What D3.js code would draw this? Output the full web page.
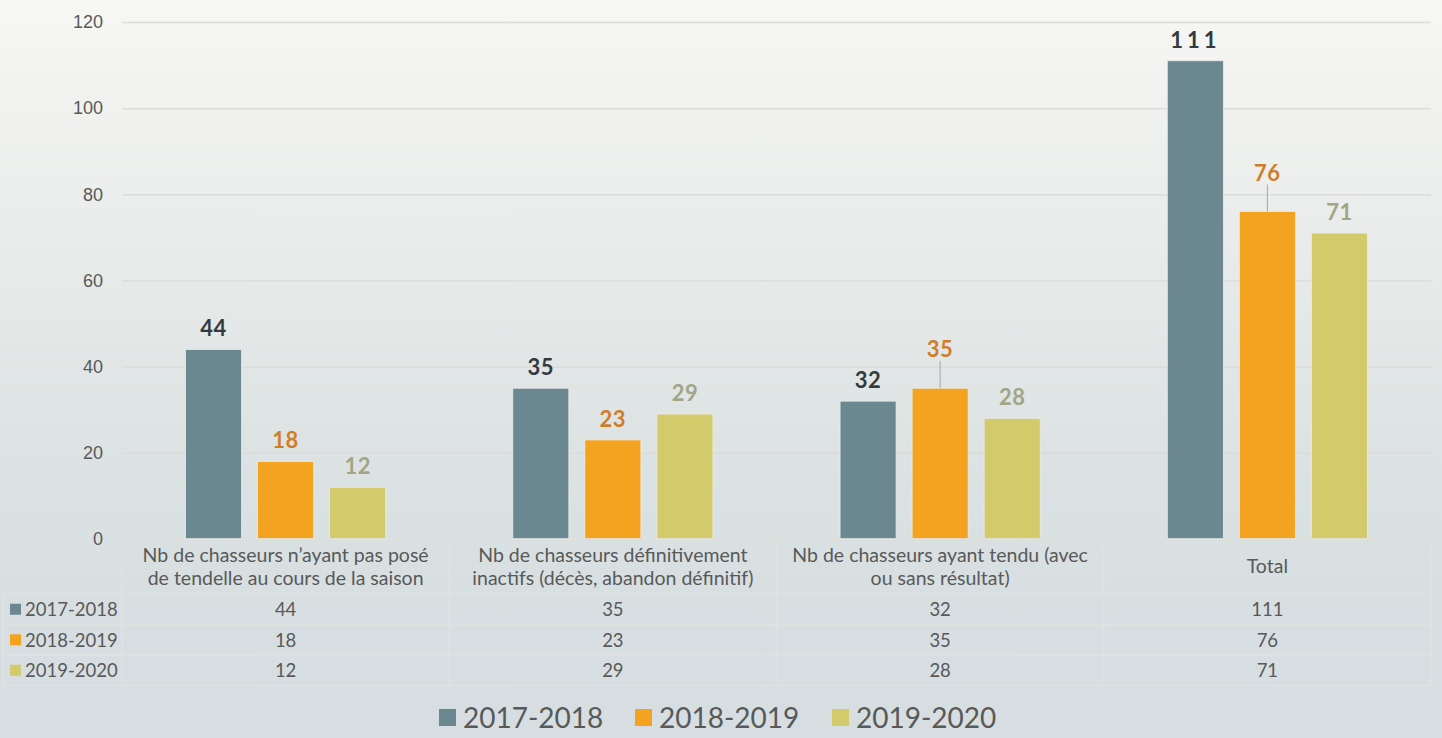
<!DOCTYPE html>
<html>
<head>
<meta charset="utf-8">
<script src="https://cdn.jsdelivr.net/npm/d3@7"></script>
<style>
  html, body { margin: 0; padding: 0; }
  body { width: 1442px; height: 738px; overflow: hidden; }
  svg { display: block; font-family: "Lato", "Open Sans", sans-serif; }
</style>
</head>
<body>
<svg id="chart" width="1442" height="738"></svg>
<script>
// Categories (two-line labels for the table header)
const categories = [
  ["Nb de chasseurs n\u2019ayant pas posé", "de tendelle au cours de la saison"],
  ["Nb de chasseurs définitivement", "inactifs (décès, abandon définitif)"],
  ["Nb de chasseurs ayant tendu (avec", "ou sans résultat)"],
  ["Total"]
];
const seriesNames = ["2017-2018", "2018-2019", "2019-2020"];
const values2017 = [44, 35, 32, 111];
const values2018 = [18, 23, 35, 76];
const values2019 = [12, 29, 28, 71];
const yTicks = [0, 20, 40, 60, 80, 100, 120];

const seriesValues = [values2017, values2018, values2019];
const barColors = ["#6b8790", "#f4a320", "#d3ca6b"];
const labelColors = ["#333b3f", "#cf7d2b", "#a2a586"];
const textColor = "#595959";

const svg = d3.select("#chart");
const W = 1442, H = 738;

// Background gradient
const defs = svg.append("defs");
const grad = defs.append("linearGradient").attr("id", "bg").attr("x1", 0).attr("y1", 0).attr("x2", 0).attr("y2", 1);
grad.append("stop").attr("offset", "0%").attr("stop-color", "#f7f7f4");
grad.append("stop").attr("offset", "55%").attr("stop-color", "#dfe4e4");
grad.append("stop").attr("offset", "80%").attr("stop-color", "#d7dfe1");
grad.append("stop").attr("offset", "100%").attr("stop-color", "#d6dee1");
svg.append("rect").attr("width", W).attr("height", H).attr("fill", "url(#bg)");

const plotLeft = 122, plotRight = 1431, plotTop = 22, plotBottom = 539;

const x = d3.scaleBand().domain(d3.range(categories.length)).range([plotLeft, plotRight]);
const xInner = d3.scaleBand().domain(d3.range(seriesNames.length)).range([0, x.bandwidth()]).paddingInner(0.222).paddingOuter(0.882);
const y = d3.scaleLinear().domain([0, 120]).range([plotBottom, plotTop]);

// Gridlines
const yAxis = d3.axisLeft(y).tickValues(yTicks).tickSize(-(plotRight - plotLeft)).tickPadding(19);
const gAxis = svg.append("g").attr("transform", `translate(${plotLeft},0)`).call(yAxis);
gAxis.select(".domain").remove();
gAxis.selectAll(".tick line").attr("stroke", "#dcdcd8").attr("stroke-width", 1.5);
gAxis.selectAll(".tick text").attr("fill", textColor).attr("font-size", 18);

// Bars
const barG = svg.append("g");
seriesValues.forEach((vals, s) => {
  barG.selectAll(null).data(vals).enter().append("rect")
    .attr("x", (d, i) => x(i) + xInner(s))
    .attr("y", d => y(d))
    .attr("width", xInner.bandwidth())
    .attr("height", d => y(0) - y(d))
    .attr("fill", barColors[s])
    .attr("stroke", "#e9ecea").attr("stroke-width", 0.8);
});

// Data labels; a few are lifted with a leader line
const lifted = { "1-2": 18, "1-3": 18 };
seriesValues.forEach((vals, s) => {
  vals.forEach((d, i) => {
    const cx = x(i) + xInner(s) + xInner.bandwidth() / 2;
    const extra = lifted[s + "-" + i] || 0;
    const ly = y(d) - 13 - extra;
    if (extra) {
      svg.append("line").attr("x1", cx).attr("x2", cx)
        .attr("y1", ly + 4).attr("y2", y(d))
        .attr("stroke", "#a6a6a6").attr("stroke-width", 1);
    }
    svg.append("text").attr("x", cx).attr("y", ly)
      .attr("text-anchor", "middle").attr("font-size", 22).attr("font-weight", 700)
      .attr("letter-spacing", d === 111 ? 4 : 0.5)
      .attr("fill", labelColors[s]).text(d);
  });
});

// Data table
const tableG = svg.append("g");
const rowY = [539, 594, 624.5, 655, 685.5];
const tableLeft = 3;
const lineColor = "#e0e2df";
tableG.append("line").attr("x1", plotLeft).attr("x2", plotRight).attr("y1", rowY[0]).attr("y2", rowY[0]).attr("stroke", lineColor).attr("stroke-width", 1.5);
rowY.slice(1).forEach(yy => {
  tableG.append("line").attr("x1", tableLeft).attr("x2", plotRight).attr("y1", yy).attr("y2", yy).attr("stroke", lineColor).attr("stroke-width", 1.5);
});
d3.range(categories.length + 1).forEach(i => {
  const xx = i < categories.length ? x(i) : plotRight;
  tableG.append("line").attr("x1", xx).attr("x2", xx).attr("y1", rowY[0]).attr("y2", rowY[4]).attr("stroke", lineColor).attr("stroke-width", 1.5);
});
tableG.append("line").attr("x1", tableLeft).attr("x2", tableLeft).attr("y1", rowY[1]).attr("y2", rowY[4]).attr("stroke", lineColor).attr("stroke-width", 1.5);

// header text
categories.forEach((lines, i) => {
  const cx = x(i) + x.bandwidth() / 2;
  const t = tableG.append("text").attr("text-anchor", "middle").attr("font-size", 19.5).attr("fill", textColor);
  if (lines.length === 1) {
    t.append("tspan").attr("x", cx).attr("y", 573).text(lines[0]);
  } else {
    lines.forEach((ln, k) => t.append("tspan").attr("x", cx).attr("y", 562 + k * 23).text(ln));
  }
});
// rows
seriesNames.forEach((name, s) => {
  const mid = (rowY[s + 1] + rowY[s + 2]) / 2;
  tableG.append("rect").attr("x", 10).attr("y", mid - 5.5).attr("width", 11).attr("height", 11).attr("fill", barColors[s]);
  tableG.append("text").attr("x", 25).attr("y", mid + 7).attr("font-size", 18.5).attr("fill", textColor).text(name);
  seriesValues[s].forEach((d, i) => {
    tableG.append("text").attr("x", x(i) + x.bandwidth() / 2).attr("y", mid + 7)
      .attr("text-anchor", "middle").attr("font-size", 18.5).attr("fill", textColor).text(d);
  });
});

// Legend
const legend = svg.append("g");
const legendX = [439, 635, 832];
seriesNames.forEach((name, s) => {
  legend.append("rect").attr("x", legendX[s]).attr("y", 709).attr("width", 17).attr("height", 17).attr("fill", barColors[s]);
  legend.append("text").attr("x", legendX[s] + 24).attr("y", 728).attr("font-size", 28).attr("fill", textColor).text(name);
});
</script>
</body>
</html>
